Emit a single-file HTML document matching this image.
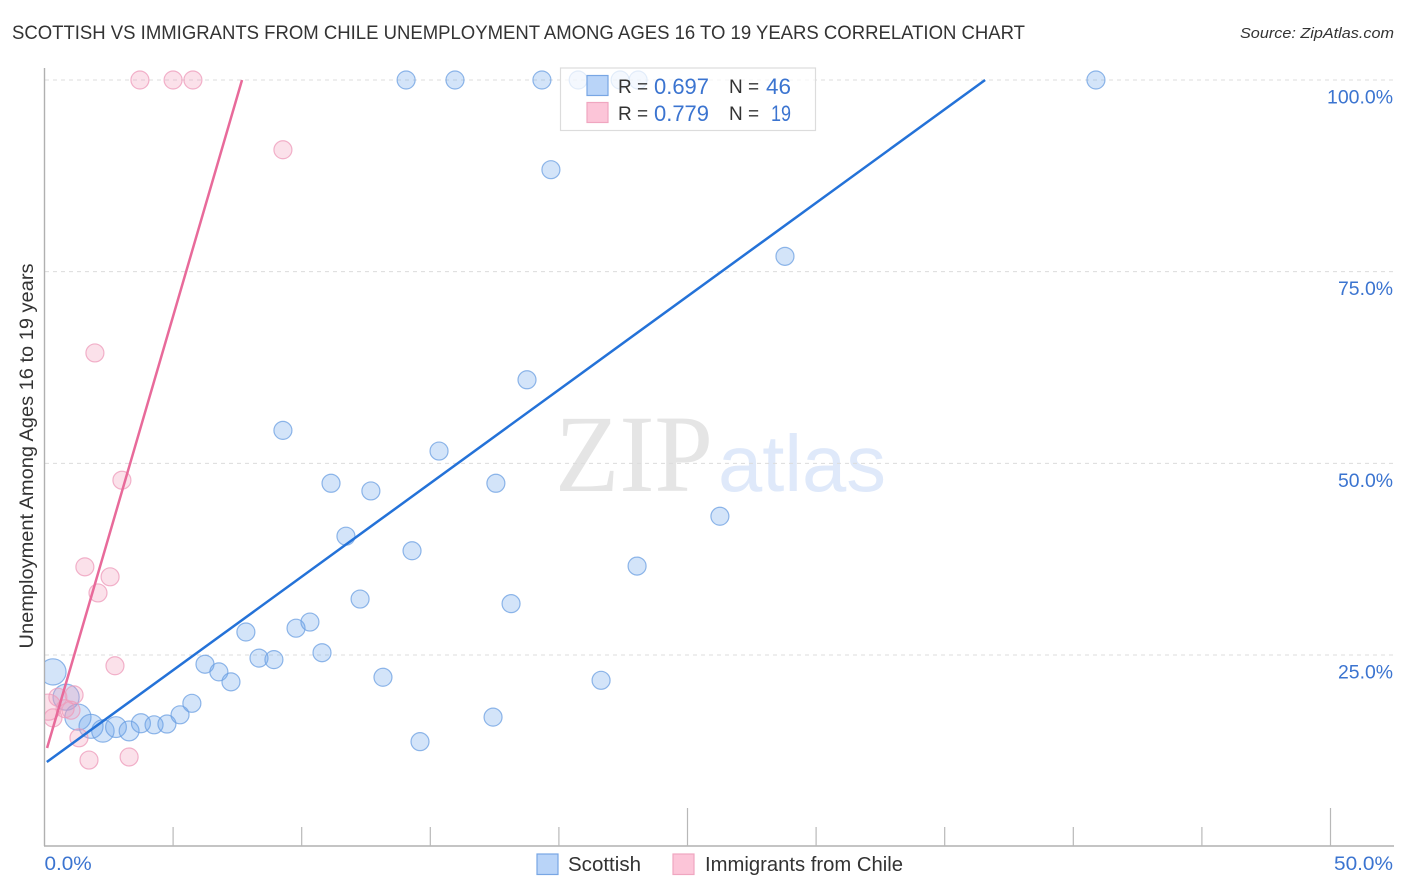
<!DOCTYPE html>
<html>
<head>
<meta charset="utf-8">
<title>Scottish vs Immigrants from Chile Unemployment Correlation Chart</title>
<style>
html,body{margin:0;padding:0;background:#fff;}
svg{display:block;font-family:"Liberation Sans",sans-serif;}
</style>
</head>
<body>
<svg id="chart" width="1406" height="892" viewBox="0 0 1406 892" xmlns="http://www.w3.org/2000/svg">
  <text x="12" y="39" font-size="19" fill="#333" textLength="1013" lengthAdjust="spacingAndGlyphs">SCOTTISH VS IMMIGRANTS FROM CHILE UNEMPLOYMENT AMONG AGES 16 TO 19 YEARS CORRELATION CHART</text>
  <text x="1394" y="38" font-size="15" font-style="italic" fill="#333" text-anchor="end" textLength="154" lengthAdjust="spacingAndGlyphs">Source: ZipAtlas.com</text>
  <text x="555" y="491" font-family="'Liberation Serif',serif" font-size="110" fill="#e5e5e5" textLength="158" lengthAdjust="spacingAndGlyphs">ZIP</text>
  <text x="718" y="491" font-size="80" fill="#dfe9fa" textLength="168" lengthAdjust="spacingAndGlyphs">atlas</text>
  <g id="grid"></g>
  <g id="axes"></g>
  <svg id="marks" x="45" y="60" width="1349" height="786" viewBox="45 60 1349 786" overflow="hidden"></svg>
  <text transform="translate(33,456) rotate(-90)" font-size="19" fill="#333" text-anchor="middle" textLength="385" lengthAdjust="spacingAndGlyphs">Unemployment Among Ages 16 to 19 years</text>
  <g>
    <rect x="560.5" y="68" width="255" height="62.5" fill="#fff" fill-opacity="0.75" stroke="#dcdcdc" stroke-width="1.2"/>
    <rect x="587" y="75.5" width="21" height="20" fill="#b9d4f8" stroke="#78a6e4" stroke-width="1.2"/>
    <rect x="587" y="102.5" width="21" height="20" fill="#fcc5d8" stroke="#f0a6c0" stroke-width="1.2"/>
    <text x="618" y="93" font-size="19" fill="#333">R =</text>
    <text x="654" y="94" font-size="22" fill="#3b74d0" textLength="55" lengthAdjust="spacingAndGlyphs">0.697</text>
    <text x="729" y="93" font-size="19" fill="#333">N =</text>
    <text x="766" y="94" font-size="22" fill="#3b74d0" textLength="25" lengthAdjust="spacingAndGlyphs">46</text>
    <text x="618" y="120" font-size="19" fill="#333">R =</text>
    <text x="654" y="121" font-size="22" fill="#3b74d0" textLength="55" lengthAdjust="spacingAndGlyphs">0.779</text>
    <text x="729" y="120" font-size="19" fill="#333">N =</text>
    <text x="771" y="121" font-size="22" fill="#3b74d0" textLength="20" lengthAdjust="spacingAndGlyphs">19</text>
  </g>
  <g>
    <rect x="537" y="854" width="21" height="20.5" fill="#b9d4f8" stroke="#78a6e4" stroke-width="1.2"/>
    <text x="568" y="871" font-size="20" fill="#333" textLength="73" lengthAdjust="spacingAndGlyphs">Scottish</text>
    <rect x="673" y="854" width="21" height="20.5" fill="#fcc5d8" stroke="#f0a6c0" stroke-width="1.2"/>
    <text x="705" y="871" font-size="20" fill="#333" textLength="198" lengthAdjust="spacingAndGlyphs">Immigrants from Chile</text>
  </g>
</svg>
<script>
const scottishX = [0.33,0.84,1.30,1.81,2.27,2.78,3.29,3.75,4.26,4.76,5.27,5.73,6.24,6.78,7.25,7.83,8.34,8.92,9.78,10.32,10.79,9.27,11.14,11.72,12.69,12.27,13.16,14.29,14.60,15.34,17.44,17.55,18.14,18.76,19.69,21.64,23.04,26.26,28.79,40.88,14.06,15.96,19.34,20.75,22.38,23.08];
const scottishY = [22.8,19.5,16.9,15.7,15.1,15.6,15.1,16.1,15.9,16.0,17.2,18.7,23.8,22.8,21.5,28.0,24.6,24.4,28.5,29.3,25.3,54.3,47.4,40.5,46.4,32.3,22.1,38.6,13.7,51.6,16.9,47.4,31.7,60.9,88.3,21.7,36.6,43.1,77.0,100,100,100,100,100,100,100];
const scottishWeight = [19,19,19,16,14,12,11,10,9,9,9,9,9,9,9,9,9,9,9,9,9,9,9,9,9,9,9,9,9,9,9,9,9,9,9,9,9,9,9,9,9,9,9,9,9,9];
const chileX = [3.71,5.00,5.77,9.27,1.96,3.01,1.57,2.55,2.08,2.74,1.34,1.73,3.29,1.15,0.52,0.80,1.03,0.33,0.14];
const chileY = [100,100,100,90.9,64.4,47.8,36.5,35.2,33.1,23.6,14.2,11.3,11.7,19.8,19.5,18.0,17.8,16.8,18.2];
const chileWeight = [9,9,9,9,9,9,9,9,9,9,9,9,9,9,9,9,9,9,19];
const scottishTrendX = [0.09,36.57];
const scottishTrendY = [11.05,100];
const chileTrendX = [0.10,7.68];
const chileTrendY = [12.87,100];
const yTickValues = [25,50,75,100];
const yTickLabels = ['25.0%','50.0%','75.0%','100.0%'];
const xTickValues = [5,10,15,20,25,30,35,40,45,50];
const xMajorTicks = [25,50];
const xEndValues = [0,50];
const xEndLabels = ['0.0%','50.0%'];

const NS = 'http://www.w3.org/2000/svg';
function xScale(v){ return 44.5 + v * 25.72; }
function yScale(v){ return 80 + (100 - v) * 7.667; }
function rScale(w){ return Math.sqrt(w) * 3; }
function make(tag, attrs, parent){
  const el = document.createElementNS(NS, tag);
  for (const k in attrs) el.setAttribute(k, attrs[k]);
  parent.appendChild(el);
  return el;
}
const grid = document.getElementById('grid');
const axes = document.getElementById('axes');
const marks = document.getElementById('marks');

yTickValues.forEach(function(v, i){
  const g = make('line', {x1:45, x2:1393, y1:yScale(v), y2:yScale(v), stroke:'#dcdcdc', 'stroke-width':1, 'stroke-dasharray':'4 4'}, grid);
  
  
  const t = make('text', {x:1393, y:yScale(v) + 23.5, 'font-size':19, fill:'#3b74d0', 'text-anchor':'end', textLength:yTickLabels[i].length * 11, lengthAdjust:'spacingAndGlyphs'}, axes);
  t.textContent = yTickLabels[i];
  
  
});

const yAxis = make('line', {x1:44.5, x2:44.5, y1:68, y2:846, stroke:'#b0b0b0', 'stroke-width':1.4}, axes);


const xAxis = make('line', {x1:44, x2:1394, y1:846, y2:846, stroke:'#b0b0b0', 'stroke-width':1.4}, axes);



xTickValues.forEach(function(v){
  const top = xMajorTicks.indexOf(v) >= 0 ? 808 : 827;
  const tk = make('line', {x1:xScale(v), x2:xScale(v), y1:top, y2:846, stroke:'#b8b8b8', 'stroke-width':1.2}, axes);
  
  
});
xEndValues.forEach(function(v, i){
  const anchor = i === 0 ? 'start' : 'end';
  const px = i === 0 ? xScale(v) : 1393;
  const t = make('text', {x:px, y:870, 'font-size':19, fill:'#3b74d0', 'text-anchor':anchor, textLength:xEndLabels[i].length * 11.8, lengthAdjust:'spacingAndGlyphs'}, axes);
  t.textContent = xEndLabels[i];
  
  
});

function drawPoints(xs, ys, ws, fill, stroke, name){
  xs.forEach(function(x, i){
    const c = make('circle', {cx:xScale(x), cy:yScale(ys[i]), r:rScale(ws[i]), fill:fill, 'fill-opacity':0.3, stroke:stroke, 'stroke-opacity':0.75, 'stroke-width':1.2}, marks);
    
    
  });
}
function drawTrend(xs, ys, color, name){
  const l = make('line', {x1:xScale(xs[0]), y1:yScale(ys[0]), x2:xScale(xs[1]), y2:yScale(ys[1]), stroke:color, 'stroke-width':2.5}, marks);
  
  
}
drawPoints(scottishX, scottishY, scottishWeight, '#6ea6ec', '#6b9fe2', 'scottish');
drawPoints(chileX, chileY, chileWeight, '#f29bbb', '#ee9ab9', 'chile');
drawTrend(scottishTrendX, scottishTrendY, '#2472d8', 'scottish');
drawTrend(chileTrendX, chileTrendY, '#e86a9a', 'chile');
</script>
</body>
</html>
